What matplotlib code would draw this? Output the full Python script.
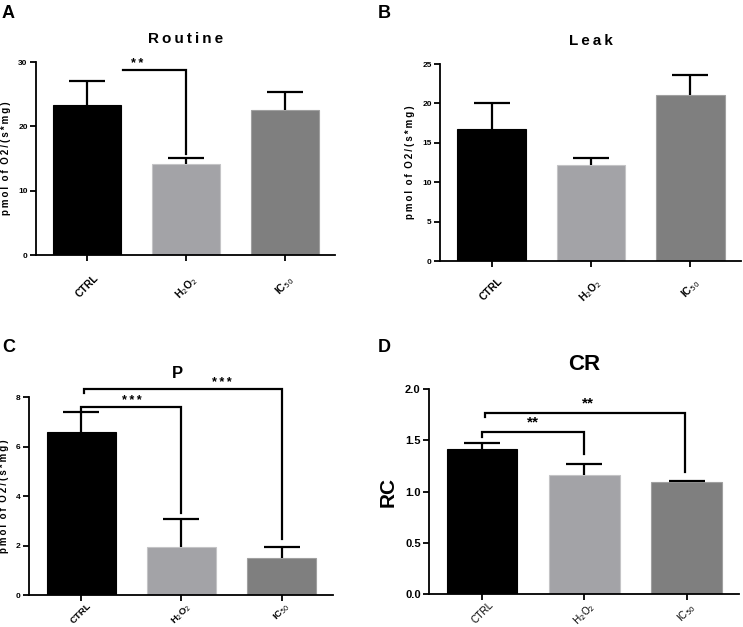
"""
Mitochondrial respiration panels (Routine / Leak / P / CR)
"""
import matplotlib
matplotlib.use('Agg')
import matplotlib.pyplot as plt

plt.rcParams['font.family'] = ['Liberation Sans', 'DejaVu Sans']

groups = ['CTRL', 'H$_2$O$_2$', 'IC$_{50}$']
bar_colors = ['#000000', '#a3a3a7', '#7f7f7f']
edge_colors = ['#000000', '#c4c4c6', '#a0a0a0']

routine_mean = [23.3, 14.1, 22.6]
routine_err = [3.7, 1.0, 2.8]
leak_mean = [16.7, 12.2, 21.1]
leak_err = [3.3, 0.9, 2.5]
p_mean = [6.6, 1.95, 1.5]
p_err = [0.8, 1.13, 0.43]
cr_mean = [1.41, 1.165, 1.09]
cr_err = [0.06, 0.105, 0.01]

routine_ticks = [0, 10, 20, 30]
leak_ticks = [0, 5, 10, 15, 20, 25]
p_ticks = [0, 2, 4, 6, 8]
cr_ticks = [0.0, 0.5, 1.0, 1.5, 2.0]

SP = '\u2009'


def spaced(s):
    return SP.join(s)


ylab = spaced('pmol') + '  ' + spaced('of') + '  ' + spaced('O2/(s*mg)')

fig = plt.figure(figsize=(7.43, 6.27), dpi=100)


def panel(rect, mean, err, ticks, title, tfs, bold_ticks, ylabel, yfs, tickfs, xtickfs, xpad):
    ax = fig.add_axes(rect)
    x = range(len(groups))
    ax.bar(x, mean, width=0.69, color=bar_colors, edgecolor=edge_colors,
           linewidth=0.8, zorder=2)
    eb = ax.errorbar(x, mean, yerr=[[0] * len(err), err], fmt='none', ecolor='black',
                     elinewidth=1.6, capsize=13, capthick=1.6, zorder=3)
    eb[1][0].set_visible(False)  # only the upper cap
    ax.set_xlim(-0.52, 2.51)
    ax.set_ylim(ticks[0], ticks[-1])
    ax.set_yticks(ticks)
    if isinstance(ticks[1], float):
        ax.set_yticklabels([f'{t:.1f}' for t in ticks])
    ax.set_xticks(list(x))
    ax.set_xticklabels(groups, rotation=45, ha='center',
                       fontsize=xtickfs, fontweight='bold' if bold_ticks else 'normal')
    for lab in ax.get_yticklabels():
        lab.set_fontsize(tickfs)
        lab.set_fontweight('bold')
    for s in ['top', 'right']:
        ax.spines[s].set_visible(False)
    for s in ['left', 'bottom']:
        ax.spines[s].set_linewidth(1.3)
    ax.tick_params(width=1.3, length=4, pad=2)
    ax.tick_params(axis='x', pad=xpad)
    ax.set_title(title, fontsize=tfs, fontweight='bold', pad=14)
    ax.set_ylabel(ylabel, fontsize=yfs, fontweight='bold', labelpad=5)
    return ax


def bracket(ax, x0, x1, ytop, yl, yr, text, tx, ty, fs=9):
    ax.plot([x0, x0, x1, x1], [yl, ytop, ytop, yr], color='black', lw=1.6,
            clip_on=False, zorder=4, solid_joinstyle='miter')
    ax.text(tx, ty, text, ha='center', va='center', fontsize=fs,
            fontweight='bold', clip_on=False)


axA = panel([0.0485, 0.5933, 0.4024, 0.3078], routine_mean, routine_err, routine_ticks,
            spaced('Routine'), 11, True, ylab, 7, 6, 7.5, 9)
bracket(axA, 0.365, 1.0, 28.8, 28.8, 15.7, spaced('**'), 0.5, 29.7)

axB = panel([0.5922, 0.5837, 0.405, 0.3142], leak_mean, leak_err, leak_ticks,
            spaced('Leak'), 11, True, ylab, 7, 6, 7.5, 7)

axC = panel([0.039, 0.051, 0.409, 0.3158], p_mean, p_err, p_ticks,
            'P', 12, True, ylab, 7, 6, 6.8, 0.5)
axC.title.set_position((0.49, 1.0))
bracket(axC, 0.0, 1.0, 7.61, 7.4, 3.3, spaced('***'), 0.51, 7.85)
bracket(axC, 0.03, 2.0, 8.32, 8.15, 2.26, spaced('***'), 1.4, 8.55)

axD = panel([0.5774, 0.0526, 0.417, 0.327], cr_mean, cr_err, cr_ticks,
            'CR', 16, False, 'RC', 15, 8, 7.2, 0.5)
bracket(axD, 0.0, 1.0, 1.577, 1.53, 1.37, '**', 0.5, 1.67, 11)
bracket(axD, 0.03, 1.98, 1.766, 1.727, 1.187, '**', 1.03, 1.855, 11)

for lbl, (px, py) in zip('ABCD', [(2, 18), (378, 18), (2, 352), (378, 352)]):
    fig.text(px / 743, 1 - py / 627, lbl, fontsize=13, fontweight='bold',
             ha='left', va='baseline')

fig.savefig('out.png', dpi=100)
